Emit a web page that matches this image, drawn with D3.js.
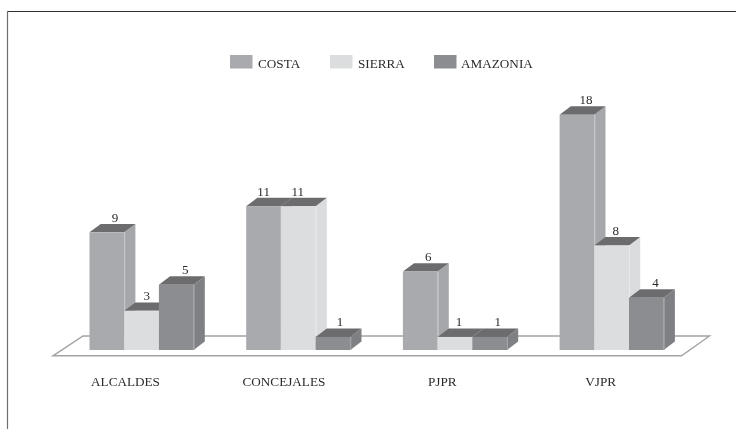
<!DOCTYPE html>
<html>
<head>
<meta charset="utf-8">
<script src="https://cdn.jsdelivr.net/npm/d3@7/dist/d3.min.js"></script>
<style>
html,body{margin:0;padding:0;background:#fff;overflow:hidden}
svg{display:block;filter:blur(0.35px)}
text{font-family:"Liberation Serif",serif;fill:#2b2b2b}
</style>
</head>
<body>
<svg id="chart" width="736" height="429"></svg>
<script>
const categories = ["ALCALDES", "CONCEJALES", "PJPR", "VJPR"];
const seriesNames = ["COSTA", "SIERRA", "AMAZONIA"];
const costa = [9, 11, 6, 18];
const sierra = [3, 11, 1, 8];
const amazonia = [5, 1, 1, 4];
const frontColors = ["#a9aaad", "#dcddde", "#8c8d90"];
const sideColors = ["#a6a7aa", "#dbdcdd", "#7f8083"];
const edgeColors = ["#c9cacc", "#e9e9ea", "#a5a6a8"];
const topColor = "#6c6c6e";
// the value labels in the reference sit slightly off-centre, by hand
const labelNudge = [[1, -7, 1, 2], [-2, -7.5, -3, -3], [2, 0, 1, 2]];

const values = [costa, sierra, amazonia];
const svg = d3.select("#chart");
const dx = 11.2, dy = 8.4;

const x0 = d3.scaleBand().domain(categories).range([63.5, 63.5 + 156.7 * 4]);
const barW = 34.7;
const x1 = d3.scaleBand().domain(seriesNames).range([26, 26 + barW * 3]);
const y = d3.scaleLinear().domain([0, 18]).range([350, 114.7]);
const xLabel = d3.scaleBand().domain(categories).range([46.3, 46.3 + 158.4 * 4]);

// frame
svg.append("line").attr("x1", 7).attr("x2", 736).attr("y1", 11.5).attr("y2", 11.5).attr("stroke", "#2f2f2f").attr("stroke-width", 1.2);
svg.append("line").attr("x1", 7.5).attr("x2", 7.5).attr("y1", 11).attr("y2", 429).attr("stroke", "#6f7072").attr("stroke-width", 1.2);

// floor
svg.append("path")
  .attr("d", d3.line()([[53, 355.8], [681.5, 355.8], [709.5, 336], [83, 336]]) + "Z")
  .attr("fill", "#fff").attr("stroke", "#a2a3a5").attr("stroke-width", 1.4);

// bars, painted left to right so that each bar covers its neighbour's side
categories.forEach((cat, ci) => {
  const g = svg.append("g").attr("transform", `translate(${x0(cat)},0)`);
  seriesNames.forEach((s, si) => {
    const v = values[si][ci];
    const xl = x1(s), xr = xl + barW, yt = y(v), yb = y(0);
    const line = d3.line();
    g.append("path")
      .attr("d", line([[xr, yt], [xr + dx, yt - dy], [xr + dx, yb - dy], [xr, yb]]) + "Z")
      .attr("fill", sideColors[si]);
    g.append("path")
      .attr("d", line([[xl, yt], [xl + dx, yt - dy], [xr + dx, yt - dy], [xr, yt]]) + "Z")
      .attr("fill", topColor);
    g.append("rect")
      .attr("x", xl).attr("y", yt).attr("width", barW).attr("height", yb - yt)
      .attr("fill", frontColors[si]);
    g.append("line")
      .attr("x1", xr + 0.5).attr("x2", xr + 0.5).attr("y1", yt).attr("y2", yb)
      .attr("stroke", edgeColors[si]).attr("stroke-width", 1);
    g.append("text")
      .attr("x", xl + barW / 2 + dx / 2 + 1.5 + labelNudge[si][ci])
      .attr("y", yt - dy - 2.3)
      .attr("text-anchor", "middle").attr("font-size", 13)
      .text(v);
  });
  svg.append("text")
    .attr("x", xLabel(cat) + xLabel.bandwidth() / 2)
    .attr("y", 385.5)
    .attr("text-anchor", "middle").attr("font-size", 13.2)
    .text(cat);
});

// legend
const legendX = d3.scaleOrdinal().domain(seriesNames).range([230, 330, 434]);
seriesNames.forEach((s, i) => {
  svg.append("rect").attr("x", legendX(s)).attr("y", 55).attr("width", 22.5).attr("height", 13.5).attr("fill", frontColors[i]);
  svg.append("text").attr("x", legendX(s) + (i === 2 ? 27 : 28)).attr("y", 68.3).attr("font-size", 13.2).text(s);
});
</script>
</body>
</html>
